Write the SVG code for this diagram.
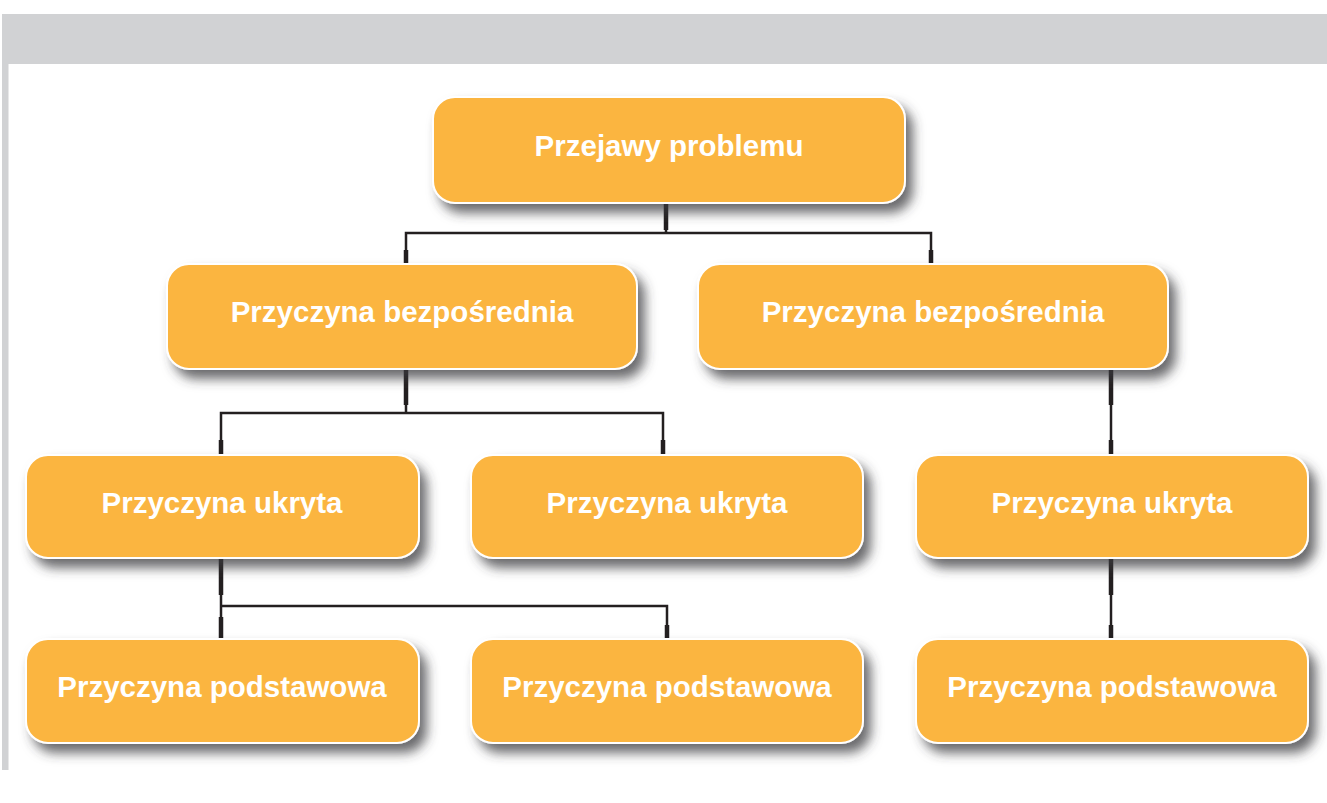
<svg xmlns="http://www.w3.org/2000/svg" width="1327" height="803" viewBox="0 0 1327 803">
  <defs>
    <filter id="sh" x="-10%" y="-20%" width="125%" height="160%">
      <feDropShadow dx="7" dy="9" stdDeviation="6" flood-color="#3a3a3c" flood-opacity="0.75"/>
    </filter>
  </defs>
  <style>
    .box { fill: #FBB540; stroke: #ffffff; stroke-width: 2; filter: url(#sh); }
    .lbl { fill: #ffffff; font-family: "Liberation Sans", Arial, sans-serif; font-weight: bold; font-size: 29.5px; text-anchor: middle; }
    .ln { stroke: #231f20; stroke-width: 2.5; fill: none; stroke-linecap: square; }
    .tk { stroke: #231f20; stroke-width: 4.5; fill: none; }
  </style>
  <rect x="0" y="0" width="1327" height="803" fill="#ffffff"/>
  <g id="frame">
    <rect x="2" y="14" width="1325" height="50" fill="#d1d2d4"/>
    <rect x="2" y="64" width="6.5" height="706" fill="#d1d2d4"/>
  </g>
  <g id="connectors">
    <path class="ln" d="M666,203 V233 M406,264 V233 H931 V264"/>
    <path class="tk" d="M666,203 V230 M406,250 V264 M931,250 V264"/>
    <path class="ln" d="M406,369 V413 M221,455 V413 H663 V455"/>
    <path class="tk" d="M406,369 V405 M221,440 V455 M663,440 V455"/>
    <path class="ln" d="M1111,369 V455"/>
    <path class="tk" d="M1111,369 V405 M1111,440 V455"/>
    <path class="ln" d="M221,558 V606 H667 V639 M221,606 V639"/>
    <path class="tk" d="M221,558 V595 M221,617 V639 M667,625 V639"/>
    <path class="ln" d="M1111,558 V639"/>
    <path class="tk" d="M1111,558 V595 M1111,625 V639"/>
  </g>
  <g id="n1"><rect class="box" x="433" y="97" width="472" height="106" rx="22"/><text class="lbl" x="669" y="156">Przejawy problemu</text></g>
  <g id="n2a"><rect class="box" x="167" y="264" width="470" height="105" rx="22"/><text class="lbl" x="402" y="322">Przyczyna bezpośrednia</text></g>
  <g id="n2b"><rect class="box" x="698" y="264" width="470" height="105" rx="22"/><text class="lbl" x="933" y="322">Przyczyna bezpośrednia</text></g>
  <g id="n3a"><rect class="box" x="26" y="455" width="393" height="103" rx="22"/><text class="lbl" x="222" y="513">Przyczyna ukryta</text></g>
  <g id="n3b"><rect class="box" x="471" y="455" width="392" height="103" rx="22"/><text class="lbl" x="667" y="513">Przyczyna ukryta</text></g>
  <g id="n3c"><rect class="box" x="916" y="455" width="392" height="103" rx="22"/><text class="lbl" x="1112" y="513">Przyczyna ukryta</text></g>
  <g id="n4a"><rect class="box" x="26" y="639" width="393" height="104" rx="22"/><text class="lbl" x="222" y="697">Przyczyna podstawowa</text></g>
  <g id="n4b"><rect class="box" x="471" y="639" width="392" height="104" rx="22"/><text class="lbl" x="667" y="697">Przyczyna podstawowa</text></g>
  <g id="n4c"><rect class="box" x="916" y="639" width="392" height="104" rx="22"/><text class="lbl" x="1112" y="697">Przyczyna podstawowa</text></g>
</svg>
